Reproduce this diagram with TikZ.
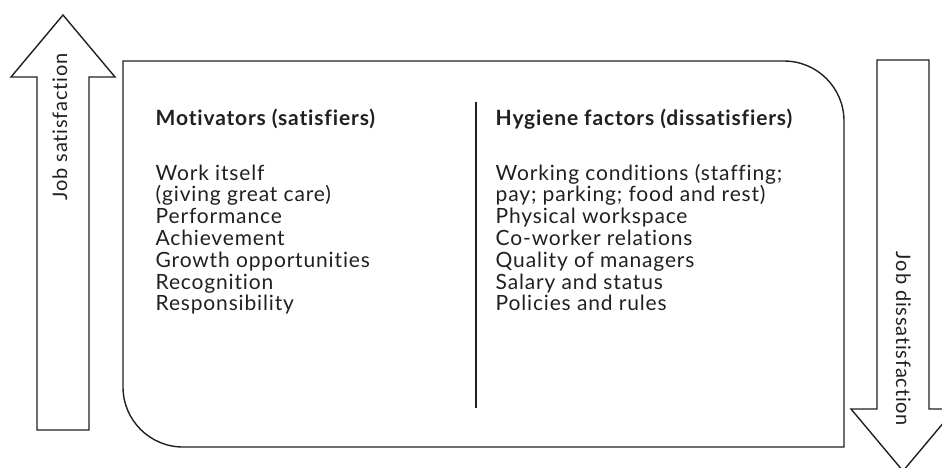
\documentclass[tikz,border=0pt]{standalone}
\usepackage{fontspec}
\setmainfont{Lato}[LetterSpace=4,Ligatures=NoCommon]
\definecolor{ink}{HTML}{231F20}

\begin{document}
\begin{tikzpicture}
	 [x=1pt,y=-1pt,line width=1.4pt,draw=ink,
	  every node/.style={inner sep=0pt,text=ink,font=\fontsize{21}{22}\selectfont},
	  item/.style={anchor=base west},
	  head/.style={anchor=base west,font=\fontsize{21}{22}\selectfont\bfseries},
	  side/.style={anchor=base,font=\fontsize{20}{22}\selectfont}]
	\useasboundingbox (0,0) rectangle (942,467);

	% up arrow
	\draw[ink,line join=miter] (37,430) -- (37,77) -- (11,77) -- (63,15) -- (115,77) -- (89,77) -- (89,430) -- cycle;
	\node (up) [side,rotate=90] at (67,127) {Job satisfaction};

	% down arrow
	\draw[ink,line join=miter] (877,60) -- (877,409) -- (851,409) -- (903,471) -- (955,409) -- (929,409) -- (929,60) -- cycle;
	\node (down) [side,rotate=-90] at (896,339) {Job dissatisfaction};

	% box
	\draw[ink] (123,61) -- (784,61) arc (-90:0:60) -- (844,447) -- (183,447) arc (90:180:60) -- cycle;
	\draw[ink] (476,102) -- (476,408);

	\node (mot) [head] at (155,125) {Motivators (satisfiers)};
	\node (hyg) [head] at (495,125) {Hygiene factors (dissatisfiers)};

	\foreach \txt [count=\i from 0] in {Work itself,(giving great care),Performance,Achievement,Growth opportunities,Recognition,Responsibility}
	  \node (m\i) [item] at (155,180+21.8*\i) {\txt};

	\foreach \txt [count=\i from 0] in {Working conditions (staffing;,pay; parking; food and rest),Physical workspace,Co-worker relations,Quality of managers,Salary and status,Policies and rules}
	  \node (h\i) [item] at (495,180+21.8*\i) {\txt};

\end{tikzpicture}
\end{document}
